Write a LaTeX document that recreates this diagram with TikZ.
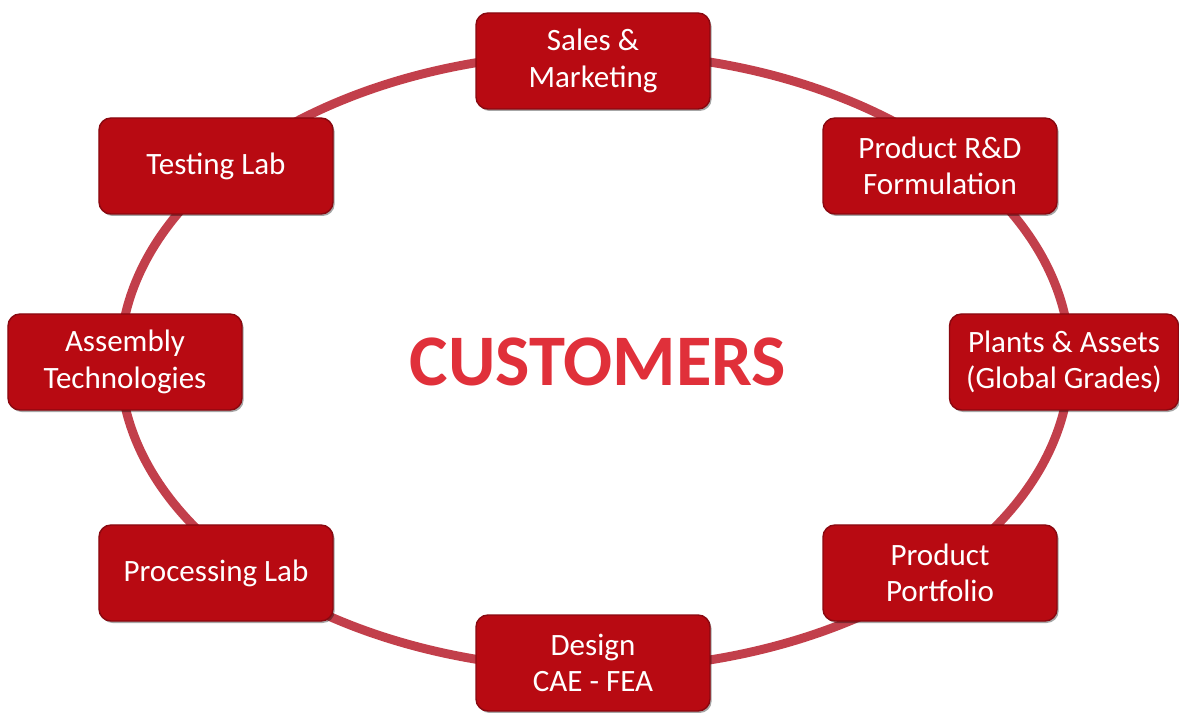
\documentclass[tikz,border=0pt]{standalone}
\usepackage{fontspec}
\setmainfont{Carlito}
\usetikzlibrary{shadows,positioning}
\definecolor{boxred}{HTML}{B80A12}
\definecolor{boxedge}{HTML}{8A0810}
\definecolor{ringred}{HTML}{C23F4B}
\definecolor{hubred}{HTML}{E0303A}
\tikzset{
  unit/.style={draw=boxedge, line width=1.2pt, fill=boxred, rounded corners=0.36cm,
    minimum width=7.02cm, minimum height=2.88cm, align=center, text=white,
    font=\fontsize{26.5}{31}\selectfont,
    drop shadow={shadow xshift=0.05cm, shadow yshift=-0.06cm, fill=black, opacity=0.35}},
  ring/.style={draw=ringred, line width=7.6pt}
}
\begin{document}
\begin{tikzpicture}[x=0.03cm,y=-0.03cm]
   \useasboundingbox (0,0) rectangle (1179,713);
   % centre
   \node [text=hubred, font=\fontsize{62}{72}\selectfont\bfseries] (hub) at (598,362) {CUSTOMERS};
   \draw[ring] (595,361) ellipse [x radius=475, y radius=308];
   % boxes round the ring
   \node [unit] (sales) at (593,61) {Sales \&\\Marketing};
   \node [unit] (rnd) at (940,166) {Product R\&D\\Formulation};
   \node [unit, minimum width=6.87cm] (plants) at (1064,362) {Plants \& Assets\\(Global Grades)};
   \node [unit] (portfolio) at (940,573) {Product\\Portfolio};
   \node [unit] (design) at (593,663) {Design\\CAE - FEA};
   \node [unit] (processing) at (216,573) {Processing Lab};
   \node [unit] (assembly) at (125,362) {Assembly\\Technologies};
   \node [unit] (testing) at (216,166) {Testing Lab};
\end{tikzpicture}
\end{document}
